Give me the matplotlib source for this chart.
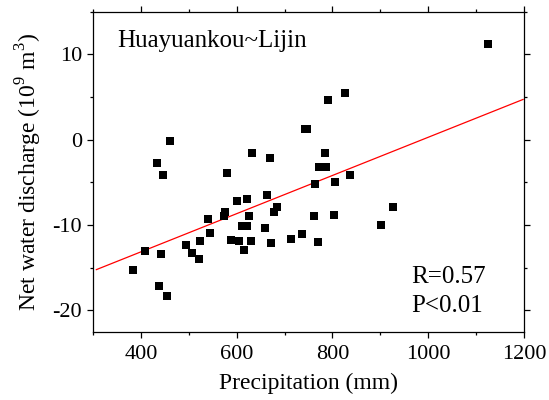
import numpy as np
import matplotlib
matplotlib.use('Agg')
import matplotlib.pyplot as plt
from matplotlib.ticker import MultipleLocator

plt.rcParams['font.family'] = 'Liberation Serif'
plt.rcParams['mathtext.fontset'] = 'custom'
plt.rcParams['mathtext.rm'] = 'Liberation Serif'
plt.rcParams['axes.unicode_minus'] = False

# precipitation (mm) vs net water discharge (10^9 m^3)
precip = [1124, 826, 790, 742, 746, 460, 433, 446, 631, 669, 785, 772, 786,
          836, 805, 764, 580, 663, 621, 600, 685, 677, 625, 576, 574, 540,
          544, 761, 803, 926, 901, 660, 611, 621, 589, 605, 629, 616, 671,
          713, 737, 769, 524, 494, 507, 521, 408, 441, 383, 438, 455]
discharge = [11.2, 5.5, 4.6, 1.3, 1.25, -0.2, -2.7, -4.1, -1.6, -2.1, -1.6,
             -3.25, -3.25, -4.1, -5.0, -5.15, -3.95, -6.5, -7.0, -7.15, -7.9,
             -8.5, -9.0, -8.5, -8.9, -9.3, -10.9, -8.9, -8.8, -7.9, -10.0,
             -10.3, -10.1, -10.15, -11.8, -11.9, -11.9, -12.9, -12.15, -11.6,
             -11.05, -12.0, -11.85, -12.3, -13.3, -13.95, -13.0, -13.35,
             -15.3, -17.1, -18.3]

# fitted line
slope = 0.02239
intercept = -22.11
fit_x = [307, 1198]

fig = plt.figure(figsize=(5.49, 4.0), dpi=100)
ax = fig.add_axes([0.1694, 0.171, 0.7851, 0.7998])

ax.plot(fit_x, [slope * v + intercept for v in fit_x], color='red', lw=0.9)
ax.plot(precip, discharge, 's', color='black', markersize=5.3, markeredgewidth=0)

ax.set_xlim(300, 1200)
ax.set_ylim(-22.5, 15)
ax.xaxis.set_major_locator(MultipleLocator(200))
ax.xaxis.set_minor_locator(MultipleLocator(100))
ax.yaxis.set_major_locator(MultipleLocator(10))
ax.yaxis.set_minor_locator(MultipleLocator(5))
ax.tick_params(which='both', direction='out', top=True, right=True, labelsize=16)
ax.tick_params(which='major', length=4, width=0.9)
ax.tick_params(axis='x', which='major', pad=6)
ax.tick_params(axis='y', which='major', pad=4)
ax.tick_params(which='minor', length=2, width=0.9)
for s in ax.spines.values():
    s.set_linewidth(0.9)

ax.set_xlabel('Precipitation (mm)', fontsize=17, labelpad=6)
ax.set_ylabel('Net water discharge (10$^9$ m$^3$)', fontsize=17, labelpad=6)

ax.text(0.0557, 0.889, 'Huayuankou~Lijin', transform=ax.transAxes,
        fontsize=18, va='baseline')
ax.text(0.739, 0.153, 'R=0.57', transform=ax.transAxes, fontsize=18, va='baseline')
ax.text(0.739, 0.0625, 'P<0.01', transform=ax.transAxes, fontsize=18, va='baseline')

fig.savefig('out.png', dpi=100)
